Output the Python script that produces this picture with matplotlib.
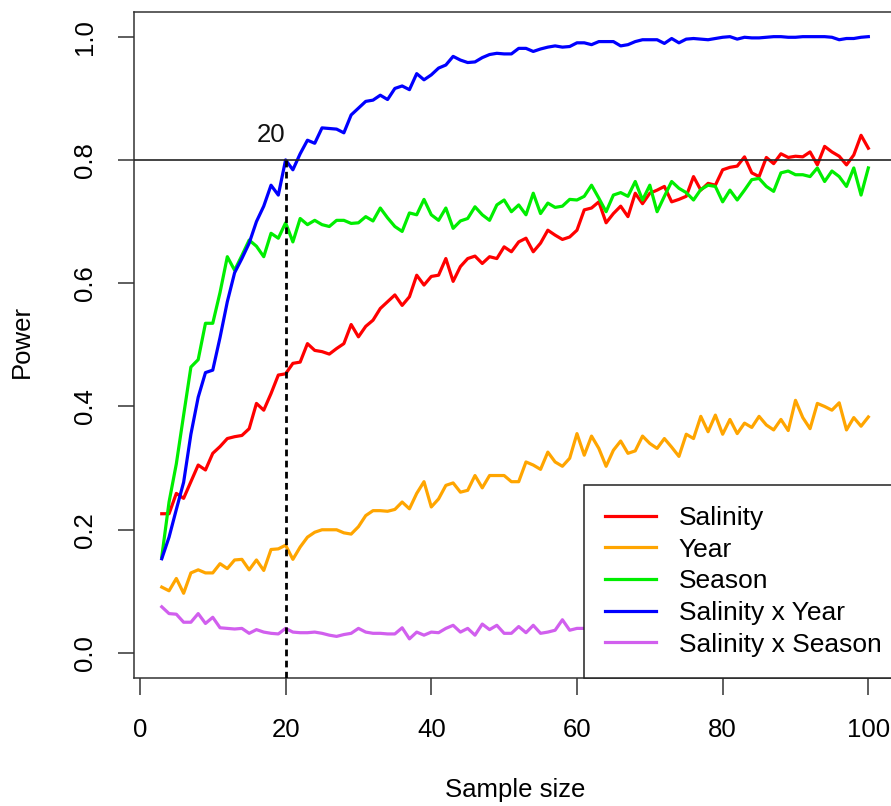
import numpy as np
import matplotlib
matplotlib.use("Agg")
import matplotlib.pyplot as plt

plt.rcParams['font.family'] = ['Liberation Sans', 'DejaVu Sans']

# sample sizes 3..100
sample_size = list(range(3, 101))

salinity = [
    0.226, 0.226, 0.259, 0.251, 0.278, 0.305, 0.297, 0.324,
    0.335, 0.348, 0.351, 0.353, 0.364, 0.405, 0.394, 0.421, 0.451, 0.453,
    0.470, 0.472, 0.502, 0.491, 0.489, 0.485, 0.494, 0.502, 0.533, 0.513,
    0.530, 0.540, 0.559, 0.570, 0.581, 0.564, 0.578, 0.613, 0.597, 0.611,
    0.613, 0.640, 0.603, 0.627, 0.640, 0.644, 0.632, 0.643, 0.640, 0.659,
    0.651, 0.667, 0.673, 0.651, 0.665, 0.686, 0.678, 0.671, 0.675, 0.686,
    0.719, 0.722, 0.732, 0.698, 0.713, 0.725, 0.708, 0.746, 0.729, 0.746,
    0.751, 0.757, 0.732, 0.736, 0.741, 0.773, 0.751, 0.762, 0.759, 0.784,
    0.788, 0.790, 0.805, 0.779, 0.773, 0.804, 0.794, 0.810, 0.804, 0.806,
    0.805, 0.813, 0.792, 0.822, 0.813, 0.806, 0.792, 0.808, 0.840, 0.819,
]

year = [
    0.107, 0.101, 0.121, 0.097, 0.130, 0.135, 0.130, 0.130,
    0.145, 0.137, 0.151, 0.152, 0.135, 0.151, 0.134, 0.168, 0.169, 0.175,
    0.152, 0.172, 0.188, 0.196, 0.200, 0.200, 0.200, 0.195, 0.193, 0.205,
    0.223, 0.231, 0.231, 0.230, 0.233, 0.245, 0.234, 0.259, 0.278, 0.237,
    0.250, 0.272, 0.276, 0.261, 0.264, 0.288, 0.268, 0.288, 0.288, 0.288,
    0.278, 0.278, 0.310, 0.305, 0.298, 0.326, 0.310, 0.303, 0.316, 0.356,
    0.321, 0.352, 0.332, 0.303, 0.329, 0.344, 0.324, 0.328, 0.352, 0.340,
    0.332, 0.348, 0.334, 0.319, 0.355, 0.348, 0.384, 0.359, 0.386, 0.355,
    0.379, 0.356, 0.373, 0.366, 0.384, 0.370, 0.362, 0.379, 0.361, 0.410,
    0.382, 0.364, 0.405, 0.400, 0.394, 0.406, 0.362, 0.382, 0.368, 0.383,
]

season = [
    0.156, 0.245, 0.307, 0.386, 0.464, 0.476, 0.535, 0.535,
    0.585, 0.643, 0.621, 0.645, 0.670, 0.660, 0.643, 0.681, 0.673, 0.698,
    0.667, 0.705, 0.695, 0.702, 0.695, 0.692, 0.702, 0.702, 0.697, 0.698,
    0.708, 0.701, 0.722, 0.706, 0.692, 0.684, 0.714, 0.711, 0.736, 0.711,
    0.702, 0.722, 0.689, 0.701, 0.705, 0.724, 0.711, 0.702, 0.727, 0.735,
    0.716, 0.727, 0.711, 0.746, 0.713, 0.730, 0.723, 0.725, 0.736, 0.735,
    0.741, 0.759, 0.738, 0.716, 0.743, 0.747, 0.741, 0.765, 0.735, 0.759,
    0.716, 0.741, 0.765, 0.754, 0.747, 0.735, 0.752, 0.759, 0.757, 0.732,
    0.751, 0.735, 0.751, 0.768, 0.770, 0.757, 0.749, 0.779, 0.782, 0.776,
    0.776, 0.773, 0.787, 0.765, 0.782, 0.773, 0.757, 0.787, 0.743, 0.787,
]

sal_x_year = [
    0.153, 0.188, 0.233, 0.277, 0.355, 0.415, 0.455, 0.459,
    0.512, 0.570, 0.617, 0.640, 0.665, 0.700, 0.725, 0.759, 0.743, 0.800,
    0.784, 0.810, 0.832, 0.827, 0.852, 0.851, 0.850, 0.844, 0.873, 0.884,
    0.895, 0.897, 0.905, 0.898, 0.916, 0.920, 0.914, 0.940, 0.930, 0.938,
    0.949, 0.954, 0.968, 0.962, 0.958, 0.959, 0.966, 0.971, 0.973, 0.972,
    0.972, 0.981, 0.981, 0.976, 0.980, 0.983, 0.985, 0.983, 0.984, 0.990,
    0.990, 0.987, 0.992, 0.992, 0.992, 0.985, 0.987, 0.992, 0.995, 0.995,
    0.995, 0.989, 0.997, 0.990, 0.996, 0.997, 0.996, 0.995, 0.997, 0.999,
    1.000, 0.996, 0.999, 0.998, 0.998, 0.999, 1.000, 1.000, 0.999, 0.999,
    1.000, 1.000, 1.000, 1.000, 0.999, 0.995, 0.997, 0.997, 0.999, 1.000,
]

# only the part left of the legend box is visible (n = 3..61)
sal_x_season = [
    0.075, 0.064, 0.063, 0.050, 0.050, 0.064, 0.048, 0.058,
    0.041, 0.040, 0.039, 0.040, 0.032, 0.038, 0.034, 0.032, 0.031, 0.040,
    0.034, 0.033, 0.033, 0.034, 0.032, 0.029, 0.027, 0.030, 0.032, 0.040,
    0.034, 0.032, 0.032, 0.031, 0.031, 0.041, 0.023, 0.034, 0.029, 0.034,
    0.033, 0.040, 0.045, 0.034, 0.040, 0.029, 0.047, 0.038, 0.045, 0.032,
    0.032, 0.043, 0.033, 0.045, 0.032, 0.034, 0.037, 0.054, 0.037, 0.040,
    0.040,
]

labels = ["Salinity", "Year", "Season", "Salinity x Year", "Salinity x Season"]
colors = ["#FF0000", "#FFA500", "#00EE00", "#0000FF", "#D15FEE"]

power_target = 0.8
n_needed = 20

fs = 18.5
axis_col = "#333333"

fig = plt.figure(figsize=(8.91, 8.06), dpi=100)
ax = fig.add_axes([133.5 / 891, 128.3 / 806, 763.1 / 891, 665.7 / 806])

series = [salinity, year, season, sal_x_year, sal_x_season]
handles = []
for vals, lab, col in zip(series, labels, colors):
    h, = ax.plot(sample_size[:len(vals)], vals, color=col, lw=2.3, label=lab)
    handles.append(h)

ax.set_xlim(-0.88, 103.88)
ax.set_ylim(-0.04, 1.04)

ax.axhline(power_target, color="#222222", lw=1.2, zorder=3)
ax.plot([n_needed, n_needed], [-0.04, power_target], color="black", lw=2,
        dashes=(2.4, 1.6), zorder=3)
ax.text(n_needed - 2, power_target + 0.04, str(n_needed), fontsize=fs,
        ha="center", va="center", color="#111111")

ax.set_xticks([0, 20, 40, 60, 80, 100])
yt = [0.0, 0.2, 0.4, 0.6, 0.8, 1.0]
ax.set_yticks(yt)
ax.set_yticklabels(["%.1f" % v for v in yt])
ax.tick_params(axis="x", direction="out", length=12, width=1.1, color=axis_col,
               labelsize=fs, pad=17)
ax.tick_params(axis="y", direction="out", length=11.5, width=1.1, color=axis_col,
               labelsize=fs, pad=15, labelrotation=90)
for lab in ax.get_yticklabels():
    lab.set_va("center")
for sp in ax.spines.values():
    sp.set_color(axis_col)
    sp.set_linewidth(1.1)

leg = ax.legend(handles=handles, loc="lower right",
                bbox_to_anchor=(1.0 + 6 / 763.1, 0.0), borderaxespad=0,
                fontsize=19, handlelength=1.9, handletextpad=0.88,
                borderpad=0.8, labelspacing=0.29, fancybox=False,
                framealpha=1, edgecolor="#222222")
leg.get_frame().set_linewidth(1.1)
leg.set_zorder(5)

fig.text(22 / 891, 1 - 341 / 806, "Power", rotation=90, ha="center",
         va="center", fontsize=fs)
fig.text(515 / 891, 9 / 806, "Sample size", ha="center", va="baseline",
         fontsize=fs)

fig.savefig("out.png", dpi=100)
